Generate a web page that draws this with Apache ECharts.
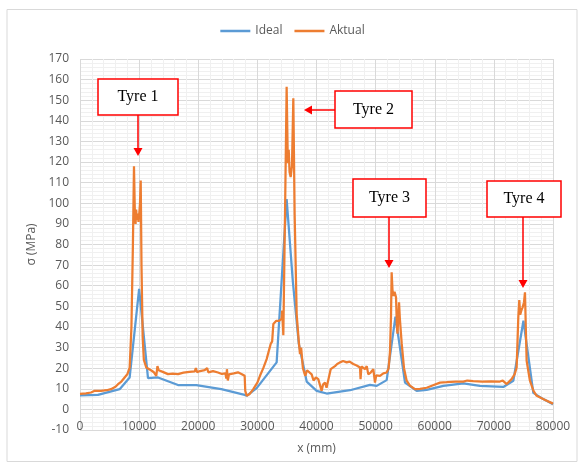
<!DOCTYPE html>
<html>
<head>
<meta charset="utf-8">
<script src="https://cdn.jsdelivr.net/npm/echarts@6/dist/echarts.min.js"></script>
<style>
html,body{margin:0;padding:0;background:#fff;}
#chart{width:585px;height:468px;}
</style>
</head>
<body>
<div id="chart"></div>
<script>
// Ideal series [x (mm), sigma (MPa)]
const idealData = [
  [0,6.8],[3040,7],[6710,9.8],[8400,15.5],[10000,58.5],[11500,15.2],[13190,15.5],
  [16575,11.8],[19670,11.8],[23900,9.8],[27850,7],[28190,6.6],[29880,10.3],[33260,22.8],
  [34950,102],[36000,62],[37000,32],[38340,13.5],[40030,9],[41720,7.7],[45670,9.3],
  [49050,11.9],[50180,11.4],[51870,14.2],[53350,45],[54970,13],[56940,9],[58640,9.5],
  [61450,11.4],[64830,12.6],[67650,11.4],[71600,10.9],[73290,13.9],[75000,43],
  [76670,8],[78360,5],[80000,2.5]
];
// Aktual series [x (mm), sigma (MPa)]
const aktualData = [
  [0,7.5],[1000,7.8],[1860,8.2],[2500,9],[3550,9],[4500,9.3],[5240,9.8],[6000,11],
  [6430,12.2],[7000,13.5],[7550,15.5],[8000,17],[8400,20.3],[8700,40],[8950,80],
  [9130,118],[9280,95],[9400,90],[9500,97],[9600,92],[9750,95],[9900,91],[10050,96],
  [10150,100],[10270,111],[10400,70],[10600,35],[10800,24],[11220,20.3],[12000,19],
  [12500,18],[12900,16.3],[13100,21],[13300,19],[14000,18.2],[14880,17.1],[15700,17.3],
  [16575,17.1],[17500,17.8],[18500,18.2],[19400,18.4],[19600,20],[19800,18],[20300,18.6],
  [21090,19],[21500,20],[21700,18],[22500,18.6],[23340,17.9],[24000,17.2],[24600,17.5],
  [24750,15],[24850,19.5],[25000,14],[25200,17],[26000,17.5],[26720,18],[27300,17.2],
  [27850,16.3],[27950,9],[28190,6.6],[28700,7.5],[29310,9.8],[30000,13],[30440,16.3],
  [31000,20],[31570,24.4],[32250,31.7],[32500,33],[32700,41.4],[33200,43],[33710,43],
  [34100,44],[34200,48],[34390,36],[34700,100],[34950,156.5],[35150,119.4],[35300,126],
  [35450,115],[35630,112.7],[35850,118],[36080,150.9],[36300,95],[36650,46],[37000,33],
  [37210,26.8],[37400,30],[37700,20],[38100,16.3],[38400,19],[39180,17],[39500,14],
  [39900,15.5],[40300,14.7],[40870,9],[41100,12],[41440,13],[41700,10.5],[42000,11],
  [42400,19.5],[43130,21],[43500,22],[43970,22.8],[44500,23.5],[45100,22.8],[45600,23.2],
  [46220,22],[46800,21.3],[47360,20.3],[47450,14.7],[47600,20.8],[48200,19.5],[48500,21],
  [48760,17],[49200,18],[49610,19.5],[49890,13],[50100,16.5],[50740,16.3],[51300,17.5],
  [51870,17.9],[52200,20],[52430,28],[52600,45],[52710,66.5],[52850,58],[53000,55],
  [53200,57],[53450,54.4],[53600,40],[53700,36.7],[53960,52],[54100,44],[54410,32],
  [54800,20],[55250,13.9],[55800,11.5],[56660,9.8],[57500,10],[58640,10.5],[59500,11.5],
  [60890,13],[62000,13.2],[63500,13.5],[64830,13.5],[65500,14],[66500,13.7],[68000,13.5],
  [69500,13.6],[71030,13.5],[71500,14],[72170,12.3],[73000,14.7],[73500,17],[73850,20.3],
  [74130,44.6],[74300,53],[74450,46],[74650,48],[74860,49.5],[75100,52],[75260,56.8],
  [75400,40],[75540,23.6],[76100,13.9],[76700,9],[77240,6.6],[78500,4.8],[80000,2.8]
];
const seriesNames = ['Ideal','Aktual'];
const xAxisName = 'x (mm)';
const yAxisName = 'σ (MPa)';
const annotationLabels = ['Tyre 1','Tyre 2','Tyre 3','Tyre 4'];

const chart = echarts.init(document.getElementById('chart'));
const FONT = '"Open Sans", "Noto Sans", sans-serif';
const red = '#FF0000';

function box(x,y,w,h,text){
  return [
    {type:'rect',shape:{x:x,y:y,width:w,height:h},style:{fill:'#fff',stroke:red,lineWidth:1.5},z:100},
    {type:'text',x:x+w/2,y:y+h/2,style:{text:text,fill:'#000',font:'16px "Liberation Serif", serif',textAlign:'center',textVerticalAlign:'middle'},z:101}
  ];
}
function arrowDown(x,y1,y2){
  return [
    {type:'line',shape:{x1:x,y1:y1,x2:x,y2:y2-6},style:{stroke:red,lineWidth:1.5},z:100},
    {type:'polygon',shape:{points:[[x-4.5,y2-8],[x+4.5,y2-8],[x,y2]]},style:{fill:red},z:100}
  ];
}
function arrowLeft(x1,x2,y){
  return [
    {type:'line',shape:{x1:x1,y1:y,x2:x2+6,y2:y},style:{stroke:red,lineWidth:1.5},z:100},
    {type:'polygon',shape:{points:[[x2+8,y-4.5],[x2+8,y+4.5],[x2,y]]},style:{fill:red},z:100}
  ];
}

const graphics = [
  {type:'rect',shape:{x:7,y:9.5,width:570,height:452},style:{fill:'none',stroke:'#d9d9d9',lineWidth:1},z:0},
  ...box(98,79,80,36,annotationLabels[0]), ...arrowDown(138,115,156),
  ...box(335,91,77,37,annotationLabels[1]), ...arrowLeft(335,304,110),
  ...box(353,179,73,38,annotationLabels[2]), ...arrowDown(389,217,268),
  ...box(487,181,74,36,annotationLabels[3]), ...arrowDown(523,217,288)
];

chart.setOption({
  animation:false,
  backgroundColor:'#fff',
  textStyle:{fontFamily:FONT},
  legend:{
    top:20, left:'center',
    icon:'rect', itemWidth:30, itemHeight:2.5, itemGap:12,
    textStyle:{color:'#595959',fontSize:12,fontFamily:FONT},
    data:seriesNames
  },
  grid:{left:80,right:32,top:59,bottom:38,containLabel:false},
  xAxis:{
    type:'value', min:0, max:80000, interval:10000,
    name:xAxisName, nameLocation:'middle', nameGap:13,
    nameTextStyle:{color:'#595959',fontSize:12,fontFamily:FONT},
    axisLine:{show:false}, axisTick:{show:false},
    axisLabel:{color:'#595959',fontSize:12,margin:-9,fontFamily:FONT,formatter:function(v){return String(v);}},
    splitLine:{show:true,lineStyle:{color:'#d9d9d9',width:1}},
    minorTick:{show:false,splitNumber:5},
    minorSplitLine:{show:true,lineStyle:{color:'#f0f0f0',width:1}}
  },
  yAxis:{
    type:'value', min:-10, max:170, interval:10,
    name:yAxisName, nameLocation:'middle', nameGap:33, nameRotate:90,
    nameTextStyle:{color:'#595959',fontSize:12,fontFamily:FONT},
    axisLine:{show:false}, axisTick:{show:false},
    axisLabel:{color:'#595959',fontSize:12,margin:11,fontFamily:FONT},
    splitLine:{show:true,lineStyle:{color:'#d9d9d9',width:1}},
    minorTick:{show:false,splitNumber:5},
    minorSplitLine:{show:true,lineStyle:{color:'#f0f0f0',width:1}}
  },
  series:[
    {name:seriesNames[0],type:'line',data:idealData,symbol:'none',
     lineStyle:{color:'#5B9BD5',width:2.25},itemStyle:{color:'#5B9BD5'},z:3},
    {name:seriesNames[1],type:'line',data:aktualData,symbol:'none',
     lineStyle:{color:'#ED7D31',width:2.25},itemStyle:{color:'#ED7D31'},z:4}
  ],
  graphic:graphics
});
</script>
</body>
</html>
